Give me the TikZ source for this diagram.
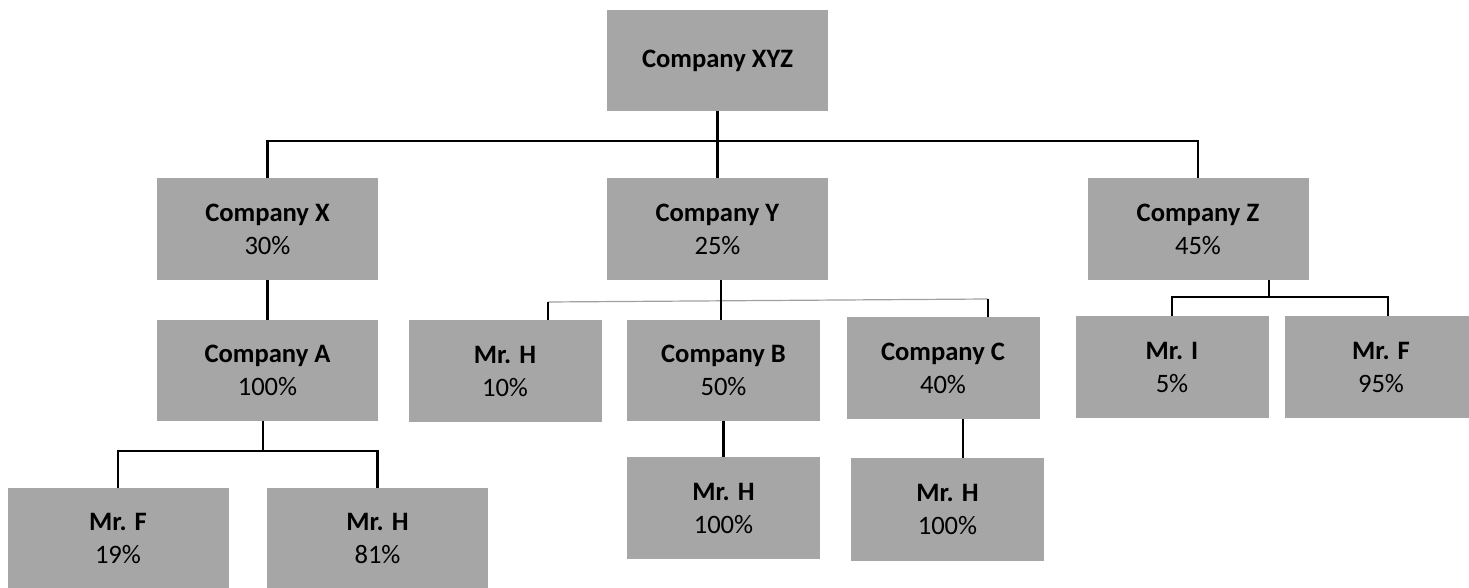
\documentclass[tikz,border=0pt]{standalone}
\usepackage{fontspec}
\setmainfont{Carlito}
\definecolor{boxgray}{RGB}{166,166,166}
\definecolor{thingray}{RGB}{160,160,160}
\begin{document}
\begin{tikzpicture}[x=0.5pt,y=-0.5pt,
  box/.style={fill=boxgray, draw=none, inner sep=0pt, align=center,
    minimum height=50.5pt, font=\fontsize{13.3}{16.5}\selectfont},
  wide/.style={box, minimum width=110.5pt},
  narrow/.style={box, minimum width=96.5pt},
  conn/.style={draw=black, line width=1.2pt},
  thin/.style={draw=thingray, line width=0.6pt}]
\useasboundingbox (0,0) rectangle (1469,588);
\clip (0,0) rectangle (1469,588);
% nodes
\node[wide] (xyz) at (717.5,60.5) {\textbf{Company XYZ}};
\node[wide, minimum height=51pt] (X) at (267.5,229) {\textbf{Company X}\\30\%};
\node[wide, minimum height=51pt] (Y) at (717.5,229) {\textbf{Company Y}\\25\%};
\node[wide, minimum height=51pt] (Z) at (1198,229) {\textbf{Company Z}\\45\%};
\node[wide] (A) at (267.5,370.5) {\textbf{Company A}\\100\%};
\node[wide, minimum height=50pt] (F1) at (118,538.5) {\textbf{Mr. F}\\19\%};
\node[wide, minimum height=50pt] (H1) at (377.5,538.5) {\textbf{Mr. H}\\81\%};
\node[narrow, minimum height=51pt] (H2) at (505,371) {\textbf{Mr. H}\\10\%};
\node[narrow] (B) at (723.5,370.5) {\textbf{Company B}\\50\%};
\node[narrow, minimum height=51pt] (C) at (943,368) {\textbf{Company C}\\40\%};
\node[narrow, minimum height=51pt] (H3) at (723.5,508) {\textbf{Mr. H}\\100\%};
\node[narrow, minimum height=51.5pt] (H4) at (947.5,509.5) {\textbf{Mr. H}\\100\%};
\node[narrow, minimum height=51pt] (I) at (1172,367) {\textbf{Mr. I}\\5\%};
\node[narrow, minimum height=51pt] (F2) at (1381,367) {\textbf{Mr. F}\\95\%};
% junction coordinates
\coordinate (top) at (717.5,141);
\coordinate (ab) at (263,451);
\coordinate (yl) at (548,302);
\coordinate (yr) at (988,299);
\coordinate (ym) at (721,301);
\coordinate (cs) at (963,419);
\coordinate (zb) at (1269,297);
% connectors
\draw[conn] (X.north) |- (top) -| (Z.north);
\draw[conn] (xyz.south) -- (Y.north);
\draw[conn] (X.south) -- (A.north);
\draw[conn] (ab |- A.south) -- (ab);
\draw[conn] (F1.north) |- (ab) -| (H1.north);
\draw[thin] (yl) -- (yr);
\draw[conn] (ym |- Y.south) -- (ym |- B.north);
\draw[conn] (yl) -- (yl |- H2.north);
\draw[conn] (yr) -- (yr |- C.north);
\draw[conn] (B.south) -- (H3.north);
\draw[conn] (cs) -- (cs |- H4.north);
\draw[conn] (zb |- Z.south) -- (zb);
\draw[conn] (I.north) |- (zb) -| ([xshift=3.5pt]F2.north);
\end{tikzpicture}
\end{document}
